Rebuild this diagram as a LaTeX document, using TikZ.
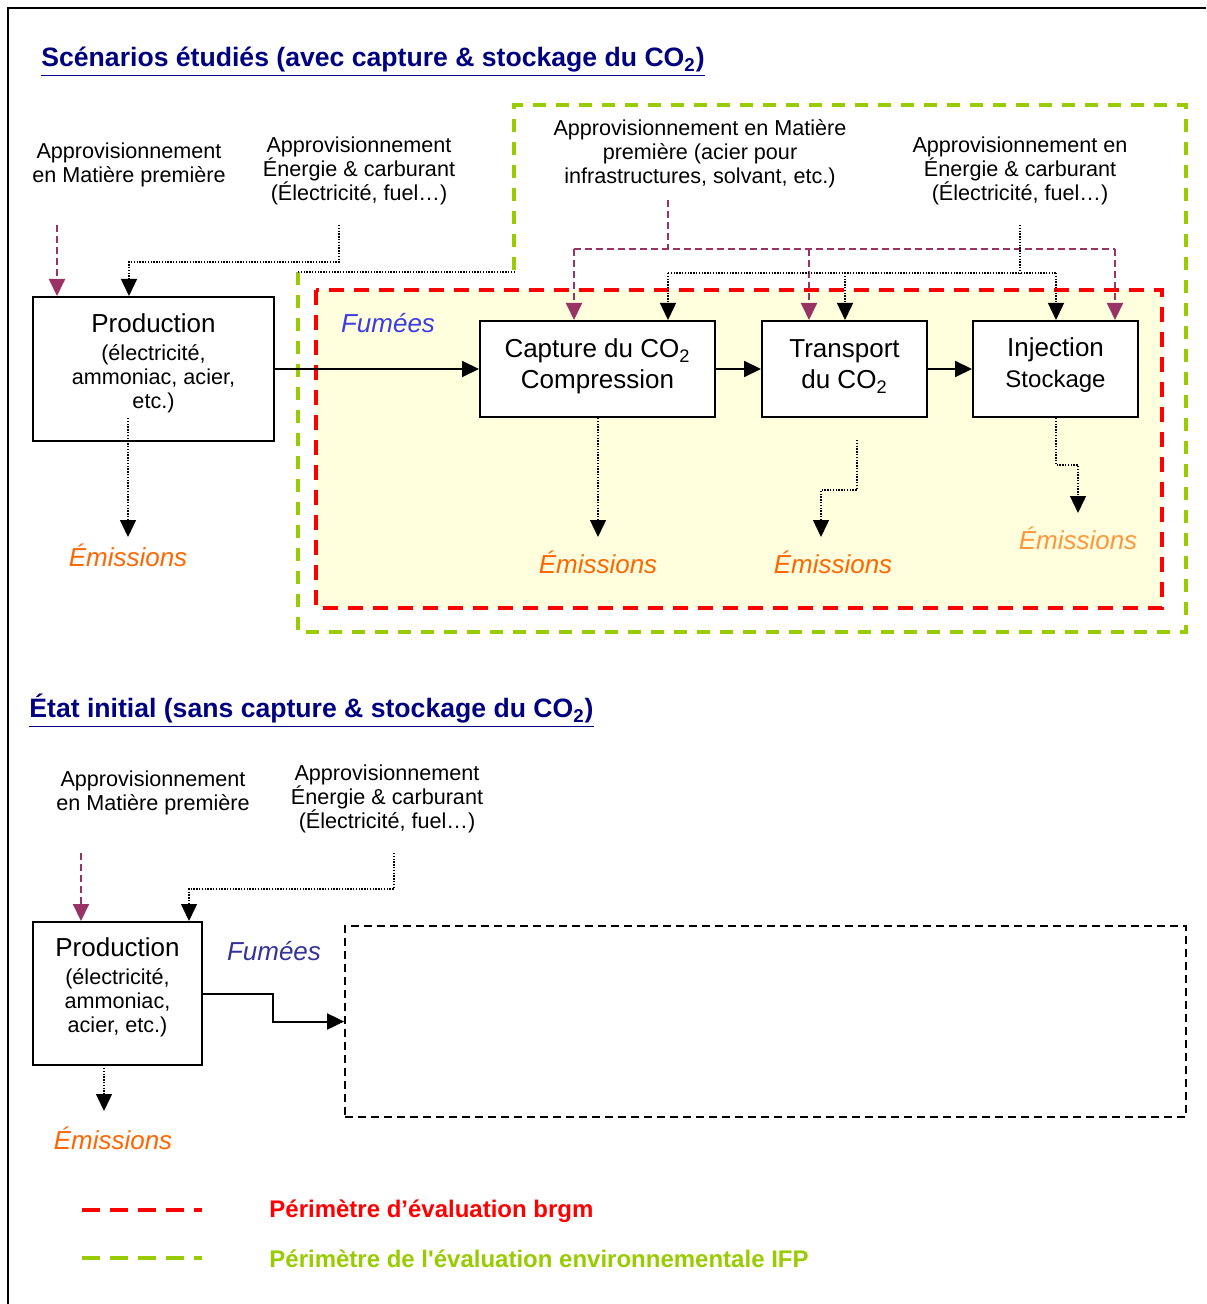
\documentclass[tikz,border=0pt]{standalone}
\usepackage{fontspec}
\setmainfont{Liberation Sans}
\usetikzlibrary{arrows.meta}
\definecolor{navy}{RGB}{0,0,128}
\definecolor{plum}{RGB}{153,51,102}
\definecolor{emorange}{RGB}{255,102,0}
\definecolor{emlight}{RGB}{255,150,60}
\definecolor{fumblue}{RGB}{60,60,230}
\definecolor{fumdark}{RGB}{51,51,153}
\definecolor{perred}{RGB}{255,0,0}
\definecolor{pergreen}{RGB}{153,204,0}
\definecolor{paleyellow}{RGB}{255,255,222}
\begin{document}
\begin{tikzpicture}[x=0.5pt,y=-0.5pt,
  lbl/.style={font=\fontsize{10.8}{12}\selectfont, align=center, inner sep=0pt},
  boxtxt/.style={font=\fontsize{13}{15.5}\selectfont, align=center, inner sep=0pt},
  procbox/.style={draw, line width=1pt, fill=white, inner sep=0pt},
  emis/.style={font=\fontsize{13}{15}\selectfont\itshape, text=emorange, inner sep=0pt},
  fum/.style={font=\fontsize{13}{15}\selectfont\itshape, inner sep=0pt},
  ttl/.style={font=\fontsize{13.3}{15}\selectfont\bfseries, text=navy, anchor=west, inner sep=0pt},
  leg/.style={font=\fontsize{12}{14}\selectfont\bfseries, anchor=west, inner sep=0pt},
  tipblack/.style={-{Triangle[width=8pt,length=8.5pt]}},
  solidarr/.style={line width=1pt, tipblack},
  dotl/.style={line width=0.7pt, dash pattern=on 0.7pt off 0.7pt},
  dotarr/.style={dotl, -{Triangle[width=8pt,length=8.5pt]}},
  purp/.style={draw=plum, line width=1pt, dash pattern=on 3.5pt off 2pt},
  purparr/.style={purp, -{Triangle[width=8pt,length=8.5pt,fill=plum]}},
  redper/.style={draw=perred, line width=1.6pt, dash pattern=on 7.5pt off 5pt},
  greenper/.style={draw=pergreen, line width=1.6pt, dash pattern=on 6.5pt off 5pt}
]
\useasboundingbox (0,0) rectangle (1206,1304);
\fill[white] (0,0) rectangle (1206,1304);
% outer frame
\draw[line width=1.1pt] (1206,8) -- (8,8) -- (8,1304);

% ---------------- titles
\node[ttl] (t1) at (41,62) {\underline{Scénarios étudiés (avec capture \& stockage du CO\textsubscript{2})}};
\node[ttl] (t2) at (29,711) {\underline{État initial (sans capture \& stockage du CO\textsubscript{2})}};

% ---------------- perimeters (top)
\draw[greenper] (298,272) -- (298,632) -- (1186,632) -- (1186,105) -- (514,105) -- (514,272);
\draw[dotl] (298,272) -- (514,272);
\filldraw[fill=paleyellow, redper] (316,290) rectangle (1162,608);

% ---------------- top section labels
\node[lbl] (a1) at (129,165) {Approvisionnement\\en Matière première};
\node[lbl] (a2) at (359,170.5) {Approvisionnement\\Énergie \& carburant\\(Électricité, fuel…)};
\node[lbl] (a3) at (700,153.5) {Approvisionnement en Matière\\première (acier pour\\infrastructures, solvant, etc.)};
\node[lbl] (a4) at (1020,170.5) {Approvisionnement en\\Énergie \& carburant\\(Électricité, fuel…)};

% ---------------- top boxes
\node[procbox, minimum width=120.5pt, minimum height=72pt] (prod1) at (153.5,369) {};
\node[lbl] (prod1t) at (153.5,363.5) {{\fontsize{13}{15}\selectfont Production}\\[2pt](électricité,\\ammoniac, acier,\\etc.)};
\node[procbox, minimum width=117.5pt, minimum height=48pt] (cap) at (597.5,369) {};
\node[boxtxt] (capt) at (597.5,366.5) {Capture du CO\textsubscript{2}\\Compression};
\node[procbox, minimum width=82.5pt, minimum height=48pt] (tra) at (844.5,369) {};
\node[boxtxt] (trat) at (844.5,366.5) {Transport\\du CO\textsubscript{2}};
\node[procbox, minimum width=82.5pt, minimum height=48pt] (inj) at (1055.5,369) {};
\node[boxtxt] (injt) at (1055.5,365) {Injection\\{\fontsize{12}{14}\selectfont Stockage}};

\node[fum, text=fumblue] (fum1) at (388,323) {Fumées};

% main flow
\draw[solidarr] (prod1.east) -- (cap.west);
\draw[solidarr] (cap.east) -- (tra.west);
\draw[solidarr] (tra.east) -- (inj.west);

% supplies to production (top)
\coordinate (rm1s) at (57,225);
\draw[purparr] (rm1s) -- (rm1s |- prod1.north);
\coordinate (en1s) at (339,225);
\coordinate (en1b) at (129,262);
\draw[dotarr] (en1s) |- (en1b) -- (en1b |- prod1.north);

% supplies to CCS chain
\coordinate (rm2s) at (668,200);
\coordinate (rm2b) at (668,249);
\coordinate (pL) at (574,249);
\coordinate (pM) at (809,249);
\coordinate (pR) at (1115,249);
\draw[purp] (rm2s) -- (rm2b);
\draw[purp] (pL) -- (pR);
\draw[purparr] (pL) -- (pL |- cap.north);
\draw[purparr] (pM) -- (pM |- tra.north);
\draw[purparr] (pR) -- (pR |- inj.north);

\coordinate (en2s) at (1020,225);
\coordinate (en2b) at (1020,273);
\coordinate (bL) at (668,273);
\coordinate (bM) at (845,273);
\coordinate (bR) at (1056,273);
\draw[dotl] (en2s) -- (en2b);
\draw[dotl] (bL) -- (bR);
\draw[dotarr] (bL) -- (bL |- cap.north);
\draw[dotarr] (bM) -- (bM |- tra.north);
\draw[dotarr] (bR) -- (bR |- inj.north);

% emissions (top)
\node[emis] (em1) at (128,555) {Émissions};
\node[emis] (em2) at (598,562) {Émissions};
\node[emis] (em3) at (833,562) {Émissions};
\node[emis, text=emlight] (em4) at (1078,538) {Émissions};

\coordinate (e1s) at (128,418);
\coordinate (e1t) at (128,537);
\draw[dotarr] (e1s) -- (e1t);
\coordinate (e2t) at (598,537);
\draw[dotarr] (cap.south -| e2t) -- (e2t);
\coordinate (e3s) at (857,440);
\coordinate (e3m) at (857,490);
\coordinate (e3t) at (821,537);
\draw[dotarr] (e3s) -- (e3m) -| (e3t);
\coordinate (e4m) at (1056,465);
\coordinate (e4t) at (1078,513);
\draw[dotarr] (inj.south -| e4m) -- (e4m) -| (e4t);

% ---------------- bottom section
\node[lbl] (a5) at (153,793) {Approvisionnement\\en Matière première};
\node[lbl] (a6) at (387,798.5) {Approvisionnement\\Énergie \& carburant\\(Électricité, fuel…)};

\node[procbox, minimum width=84.5pt, minimum height=71.5pt] (prod2) at (117.5,993.5) {};
\node[lbl] (prod2t) at (117.5,987) {{\fontsize{13}{15}\selectfont Production}\\[2pt](électricité,\\ammoniac,\\acier, etc.)};
\node[draw, line width=0.9pt, dash pattern=on 4pt off 2.5pt, minimum width=420.5pt, minimum height=95.5pt, inner sep=0pt] (ph) at (765.5,1021.5) {};
\node[fum, text=fumdark] (fum2) at (274,951) {Fumées};

\coordinate (rm3s) at (81,853);
\draw[purparr] (rm3s) -- (rm3s |- prod2.north);
\coordinate (en3s) at (394,853);
\coordinate (en3b) at (189,889);
\draw[dotarr] (en3s) |- (en3b) -- (en3b |- prod2.north);

\coordinate (k1) at (273,993.5);
\draw[solidarr] (prod2.east) -- (k1) |- (ph.west);

\node[emis] (em5) at (113,1138) {Émissions};
\coordinate (e5s) at (104,1068);
\coordinate (e5t) at (104,1111);
\draw[dotarr] (e5s) -- (e5t);

% ---------------- legend
\coordinate (l1a) at (82,1210);
\coordinate (l1b) at (202,1210);
\draw[draw=perred, line width=1.6pt, dash pattern=on 9pt off 5pt] (l1a) -- (l1b);
\node[leg, text=perred] (l1t) at (269,1211) {Périmètre d’évaluation brgm};
\coordinate (l2a) at (82,1258);
\coordinate (l2b) at (202,1258);
\draw[draw=pergreen, line width=1.6pt, dash pattern=on 9pt off 5pt] (l2a) -- (l2b);
\node[leg, text=pergreen] (l2t) at (269,1259) {Périmètre de l{\addfontfeature{Ligatures=TeXOff}'}évaluation environnementale IFP};
\end{tikzpicture}
\end{document}
